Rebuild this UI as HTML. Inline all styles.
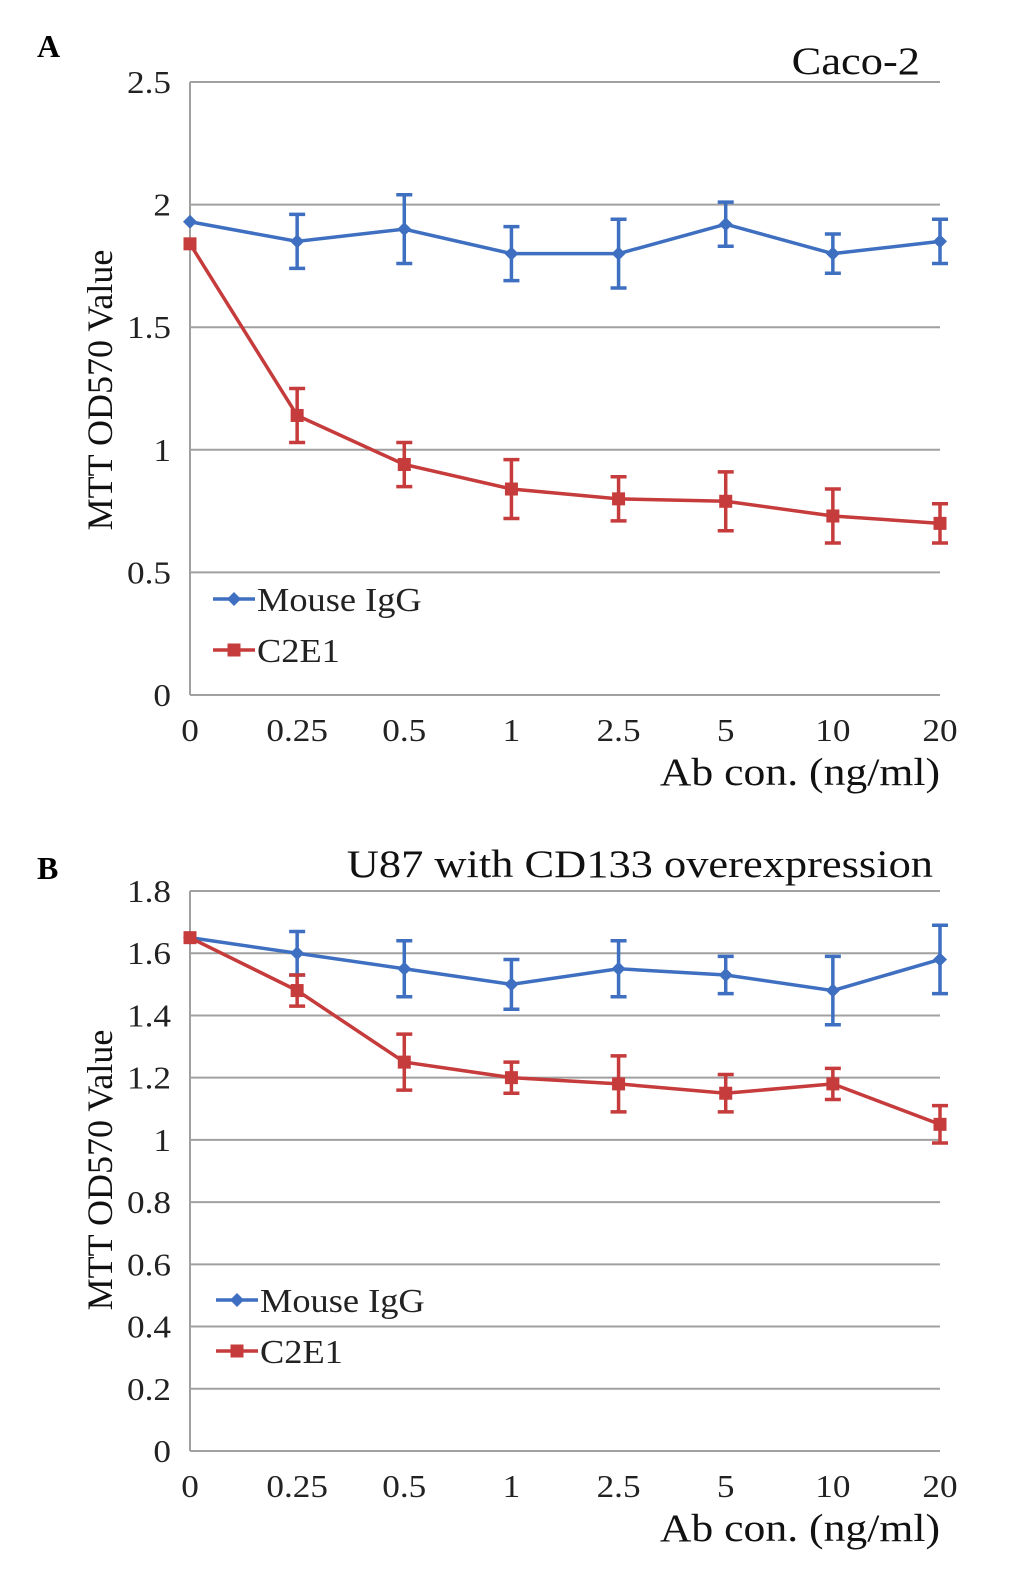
<!DOCTYPE html>
<html><head><meta charset="utf-8"><style>
body{margin:0;background:#fff;}
svg{display:block;font-family:"Liberation Serif",serif;}
</style></head><body>
<svg id="s" width="1033" height="1577" xmlns="http://www.w3.org/2000/svg">
<text x="37" y="57" font-size="32" font-weight="bold">A</text>
<text x="37" y="879" font-size="32" font-weight="bold">B</text>
<g id="ga"></g>
<g id="gb"></g>
</svg>
<script>
const categories=["0","0.25","0.5","1","2.5","5","10","20"];
const aIgg=[1.93,1.85,1.90,1.80,1.80,1.92,1.80,1.85];
const aIggErr=[0,0.11,0.14,0.11,0.14,0.09,0.08,0.09];
const aC2e1=[1.84,1.14,0.94,0.84,0.80,0.79,0.73,0.70];
const aC2e1Err=[0,0.11,0.09,0.12,0.09,0.12,0.11,0.08];
const aTicks=[0,0.5,1,1.5,2,2.5];
const aTickLabels=["0","0.5","1","1.5","2","2.5"];
const bIgg=[1.65,1.60,1.55,1.50,1.55,1.53,1.48,1.58];
const bIggErr=[0,0.07,0.09,0.08,0.09,0.06,0.11,0.11];
const bC2e1=[1.65,1.48,1.25,1.20,1.18,1.15,1.18,1.05];
const bC2e1Err=[0,0.05,0.09,0.05,0.09,0.06,0.05,0.06];
const bTicks=[0,0.2,0.4,0.6,0.8,1,1.2,1.4,1.6,1.8];
const bTickLabels=["0","0.2","0.4","0.6","0.8","1","1.2","1.4","1.6","1.8"];
const NS="http://www.w3.org/2000/svg";
const BLUE="#3f6fc0",RED="#c63b3b";
function mk(p,t,a){const e=document.createElementNS(NS,t);for(const k in a)e.setAttribute(k,a[k]);p.appendChild(e);return e;}
function txt(p,x,y,s,size,sx,anchor,fill){
 const t=mk(p,'text',{x:0,y:0,'font-size':size,'text-anchor':anchor,fill:fill,transform:`translate(${x},${y}) scale(${sx},1)`});
 t.textContent=s;return t;
}
function draw(g,o){
 const x0=190,x1=940;
 const xs=i=>x0+i*(x1-x0)/(categories.length-1);
 const ys=v=>o.yb-(v-0)/(o.max)*(o.yb-o.yt);
 o.ticks.forEach((t,i)=>{
  const l=mk(g,'line',{x1:x0,x2:x1,y1:ys(t),y2:ys(t),stroke:'#a0a0a0','stroke-width':2});
  
  
  const tx=txt(g,171,ys(t)+11,o.labels[i],32,1.1,'end','#222');
  
  
 });
 const ax=mk(g,'line',{x1:x0,x2:x0,y1:o.yt,y2:o.yb,stroke:'#a0a0a0','stroke-width':2});
 
 
 categories.forEach((c,i)=>{
  const tx=txt(g,xs(i),o.yb+46,c,32,1.1,'middle','#222');
  
  
 });
 const xt=txt(g,940,o.yb+90,'Ab con. (ng/ml)',39,1.12,'end','#111');
 
 
 const yt=mk(g,'text',{x:0,y:0,'font-size':36,'text-anchor':'middle',fill:'#111',transform:`translate(112,${o.ytitleY}) rotate(-90)`});
 yt.textContent='MTT OD570 Value';
 
 
 const tt=txt(g,o.titleX,o.titleY,o.title,39,1.14,'end','#111');
 
 
 [[o.s1,o.e1,BLUE,'diamond','mouse-igg'],[o.s2,o.e2,RED,'square','c2e1']].forEach(([s,e,col,m,nm])=>{
  const sg=mk(g,'g',{});
  
  
  const pl=mk(sg,'polyline',{points:s.map((v,i)=>xs(i)+','+ys(v)).join(' '),fill:'none',stroke:col,'stroke-width':3.5});
  
  
  s.forEach((v,i)=>{
   if(e[i]>0){
    const x=xs(i),a=ys(v+e[i]),b=ys(v-e[i]);
    const eb=mk(sg,'path',{d:`M${x},${a}V${b}M${x-8},${a}H${x+8}M${x-8},${b}H${x+8}`,stroke:col,'stroke-width':3.5,fill:'none'});
    
    
   }
   const x=xs(i),y=ys(v);
   const pt=m==='diamond'?mk(sg,'path',{d:`M${x},${y-7}L${x+7},${y}L${x},${y+7}L${x-7},${y}Z`,fill:col}):mk(sg,'rect',{x:x-6.5,y:y-6.5,width:13,height:13,fill:col});
   
   
  });
 });
 [[BLUE,'diamond','Mouse IgG',o.legY],[RED,'square','C2E1',o.legY+51]].forEach(([col,m,lab,y])=>{
  const lg=mk(g,'g',{});
  
  
  mk(lg,'line',{x1:o.legX,x2:o.legX+42,y1:y,y2:y,stroke:col,'stroke-width':3.5});
  const c=o.legX+21;
  if(m==='diamond')mk(lg,'path',{d:`M${c},${y-7}L${c+7},${y}L${c},${y+7}L${c-7},${y}Z`,fill:col});
  else mk(lg,'rect',{x:c-6.5,y:y-6.5,width:13,height:13,fill:col});
  txt(lg,o.legX+44,y+12,lab,34,1.07,'start','#222');
 });
}
draw(document.getElementById('ga'),{yt:82,yb:695,max:2.5,ticks:aTicks,labels:aTickLabels,s1:aIgg,e1:aIggErr,s2:aC2e1,e2:aC2e1Err,title:'Caco-2',titleX:920,titleY:74,legX:213,legY:599,ytitleY:390});
draw(document.getElementById('gb'),{yt:891,yb:1451,max:1.8,ticks:bTicks,labels:bTickLabels,s1:bIgg,e1:bIggErr,s2:bC2e1,e2:bC2e1Err,title:'U87 with CD133 overexpression',titleX:933,titleY:877,legX:216,legY:1300,ytitleY:1170});
</script>
</body></html>
